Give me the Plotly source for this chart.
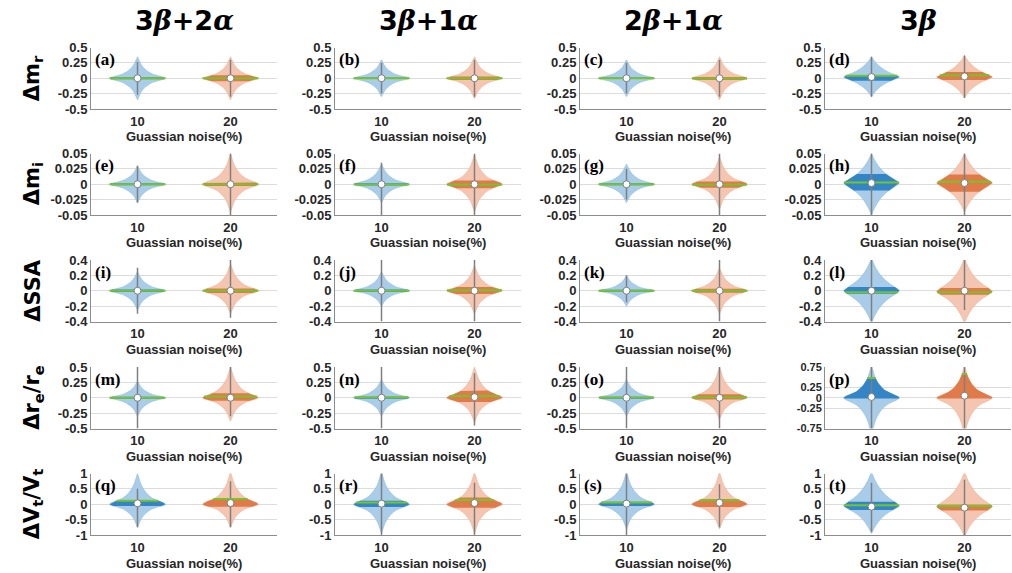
import numpy as np
import plotly.graph_objects as go
from plotly.subplots import make_subplots

# ---------------------------------------------------------------- data
GREEK = "<span style='font-family:DejaVu Serif'><i>{}</i></span>"
COLUMN_TITLES = ["3" + GREEK.format("β") + "+2" + GREEK.format("α"),
                 "3" + GREEK.format("β") + "+1" + GREEK.format("α"),
                 "2" + GREEK.format("β") + "+1" + GREEK.format("α"),
                 "3" + GREEK.format("β")]
ROW_LABELS = ["Δm<sub>r</sub>", "Δm<sub>i</sub>", "ΔSSA",
              "Δr<sub>e</sub>/r<sub>e</sub>", "ΔV<sub>t</sub>/V<sub>t</sub>"]
PANEL_TAGS = list("abcdefghijklmnopqrst")
NOISE_LEVELS = ["10", "20"]
X_TITLE = "Guassian noise(%)"

# y-axis limits and tick labels per row (row 4 column 4 uses its own)
Y_LIMITS = [0.5, 0.05, 0.4, 0.5, 1.0]
Y_TICKS = [
    [-0.5, -0.25, 0, 0.25, 0.5],
    [-0.05, -0.025, 0, 0.025, 0.05],
    [-0.4, -0.2, 0, 0.2, 0.4],
    [-0.5, -0.25, 0, 0.25, 0.5],
    [-1, -0.5, 0, 0.5, 1],
]
Y_TICKS_P = [-0.75, -0.25, 0, 0.25, 0.75]
Y_LIMIT_P = 0.75

# violin outline profiles: relative half-width vs. relative distance peak -> tip
PROFILE_T = [0, 0.03, 0.06, 0.1, 0.15, 0.2, 0.3, 0.4, 0.5, 0.6, 0.7, 0.8, 0.9, 1.0]
PROFILE_SHARP = [1.0, 0.97, 0.9, 0.78, 0.64, 0.53, 0.39, 0.29, 0.21, 0.15, 0.105, 0.07, 0.035, 0.0]
PROFILE_BROAD = [1.0, 0.97, 0.93, 0.86, 0.77, 0.68, 0.53, 0.41, 0.31, 0.23, 0.16, 0.10, 0.05, 0.0]
PANEL_SHAPE = ["sharp", "sharp", "sharp", "broad",
               "sharp", "sharp", "sharp", "broad",
               "sharp", "sharp", "sharp", "broad",
               "sharp", "sharp", "sharp", "sharp",
               "sharp", "sharp", "sharp", "broad"]

# per panel: [10 %, 20 %]
PEAK = [[0, 0], [0, 0], [0, 0], [0.02, 0.02],
        [0, 0], [0, 0], [0, 0], [0.002, 0.002],
        [0, 0], [0, 0], [0, 0], [0, -0.01],
        [0, 0], [0, 0], [0, 0], [0, 0],
        [0, 0], [0, 0], [0, 0], [-0.05, -0.08]]
TIP_HI = [[0.35, 0.35], [0.3, 0.35], [0.3, 0.35], [0.35, 0.37],
          [0.03, 0.05], [0.033, 0.048], [0.033, 0.045], [0.05, 0.05],
          [0.25, 0.35], [0.25, 0.33], [0.2, 0.3], [0.42, 0.42],
          [0.27, 0.5], [0.3, 0.5], [0.3, 0.5], [0.78, 0.78],
          [1.0, 1.05], [1.05, 1.05], [1.05, 1.05], [1.05, 1.05]]
TIP_LO = [[-0.35, -0.35], [-0.3, -0.33], [-0.3, -0.35], [-0.3, -0.32],
          [-0.03, -0.045], [-0.03, -0.045], [-0.03, -0.04], [-0.05, -0.045],
          [-0.25, -0.3], [-0.2, -0.3], [-0.2, -0.3], [-0.42, -0.42],
          [-0.3, -0.38], [-0.3, -0.4], [-0.3, -0.35], [-0.9, -0.9],
          [-0.75, -0.75], [-0.95, -0.95], [-0.8, -0.8], [-0.95, -1.05]]
Q1 = [[-0.015, -0.05], [-0.012, -0.03], [-0.012, -0.03], [-0.04, -0.03],
      [-0.0015, -0.003], [-0.002, -0.0066], [-0.0015, -0.0055], [-0.01, -0.012],
      [-0.015, -0.03], [-0.015, -0.043], [-0.012, -0.025], [-0.04, -0.053],
      [-0.015, -0.05], [-0.015, -0.07], [-0.015, -0.03], [-0.02, -0.02],
      [-0.055, -0.08], [-0.09, -0.11], [-0.06, -0.09], [-0.19, -0.2]]
Q3 = [[0.015, 0.05], [0.012, 0.03], [0.012, 0.02], [0.047, 0.1],
      [0.0015, 0.003], [0.0015, 0.006], [0.0015, 0.0044], [0.0167, 0.016],
      [0.015, 0.03], [0.015, 0.05], [0.012, 0.025], [0.05, 0.036],
      [0.015, 0.075], [0.015, 0.116], [0.015, 0.058], [0.5, 0.6],
      [0.11, 0.19], [0.11, 0.22], [0.08, 0.17], [0.08, -0.01]]
MEAN = [[0, 0], [0, 0], [0, -0.005], [0.04, 0.05],
        [0, 0], [-0.0003, -0.001], [0, -0.001], [0.003, 0.004],
        [0, 0], [0, 0.005], [0, 0], [-0.02, -0.018],
        [0, 0.02], [0.01, 0.03], [0.005, 0.01], [0.48, 0.58],
        [0.11, 0.17], [0.055, 0.14], [0.06, 0.13], [-0.03, -0.055]]
MEDIAN = [[0, 0], [0, 0], [0, 0], [0.02, 0.03],
          [0, 0], [0, 0], [0, 0], [0.002, 0.002],
          [0, 0], [0, 0], [0, 0], [0, 0],
          [0, 0], [0, 0.01], [0, 0], [0.02, 0.05],
          [0.03, 0.04], [0.02, 0.04], [0.02, 0.05], [-0.08, -0.11]]
WHISK_LO = [[-0.27, -0.3], [-0.25, -0.3], [-0.25, -0.3], [-0.3, -0.32],
            [-0.03, -0.05], [-0.05, -0.05], [-0.025, -0.05], [-0.05, -0.05],
            [-0.3, -0.35], [-0.4, -0.4], [-0.15, -0.4], [-0.4, -0.25],
            [-0.5, -0.3], [-0.5, -0.45], [-0.5, -0.5], [-0.75, -0.75],
            [-0.75, -0.75], [-1, -1], [-1, -0.75], [-0.9, -1]]
WHISK_HI = [[0.27, 0.3], [0.25, 0.3], [0.25, 0.3], [0.35, 0.37],
            [0.03, 0.05], [0.035, 0.05], [0.025, 0.05], [0.05, 0.05],
            [0.3, 0.4], [0.4, 0.4], [0.2, 0.4], [0.4, 0.4],
            [0.5, 0.5], [0.5, 0.4], [0.5, 0.5], [0.75, 0.75],
            [0.5, 0.75], [1, 0.7], [1, 0.65], [0.7, 0.8]]

# ---------------------------------------------------------------- style
FIG_W, FIG_H = 1012, 573
COL_LEFT = [91, 335, 580, 825]
PLOT_W = 186
ROW_TOP = [47.5, 153.5, 260, 367, 473.5]
PLOT_H = 61.5
HALF_W = 0.3
LIGHT = ["#a9cce9", "#f4c6b1"]
DARK = ["#3385c6", "#e07a48"]
EDGE = ["#8dbce0", "#eeae90"]
MEAN_COLOR = "#74c52a"
WHISK_COLOR = "#7f7f7f"
FONT = "Liberation Sans"
BIG_FONT = "DejaVu Sans"
TEXT_COLOR = "#262626"

fig = make_subplots(rows=5, cols=4)


def outline(peak, hi, lo, prof):
    t = np.array(PROFILE_T)
    w = np.array(prof) * HALF_W
    y_up = peak + t * (hi - peak)
    y_dn = peak - t * (peak - lo)
    ys = np.concatenate([y_dn[::-1], y_up[1:]])
    ws = np.concatenate([w[::-1], w[1:]])
    return ys, ws


annotations = []
for r in range(5):
    for c in range(4):
        p = r * 4 + c
        prof = PROFILE_BROAD if PANEL_SHAPE[p] == "broad" else PROFILE_SHARP
        for k in range(2):
            pos = k + 1
            ys, ws = outline(PEAK[p][k], TIP_HI[p][k], TIP_LO[p][k], prof)
            # violin body
            fig.add_trace(go.Scatter(
                x=np.concatenate([pos + ws, (pos - ws)[::-1]]),
                y=np.concatenate([ys, ys[::-1]]),
                mode="lines", fill="toself", fillcolor=LIGHT[k],
                line=dict(color=EDGE[k], width=0.6, shape="spline", smoothing=0.6),
                hoverinfo="skip", showlegend=False), row=r + 1, col=c + 1)
            # inter-quartile shading
            yq = np.linspace(Q1[p][k], Q3[p][k], 25)
            wq = np.interp(yq, ys, ws)
            fig.add_trace(go.Scatter(
                x=np.concatenate([pos + wq, (pos - wq)[::-1]]),
                y=np.concatenate([yq, yq[::-1]]),
                mode="lines", fill="toself", fillcolor=DARK[k],
                line=dict(color=DARK[k], width=0),
                hoverinfo="skip", showlegend=False), row=r + 1, col=c + 1)
            # whisker
            fig.add_trace(go.Scatter(
                x=[pos, pos], y=[WHISK_LO[p][k], WHISK_HI[p][k]],
                mode="lines", line=dict(color=WHISK_COLOR, width=1.5),
                hoverinfo="skip", showlegend=False), row=r + 1, col=c + 1)
            # mean line spanning the violin width at the mean
            wm = float(np.interp(MEAN[p][k], ys, ws))
            fig.add_trace(go.Scatter(
                x=[pos - wm, pos + wm], y=[MEAN[p][k], MEAN[p][k]],
                mode="lines", line=dict(color=MEAN_COLOR, width=2),
                hoverinfo="skip", showlegend=False), row=r + 1, col=c + 1)
            # median marker
            fig.add_trace(go.Scatter(
                x=[pos], y=[MEDIAN[p][k]], mode="markers",
                marker=dict(color="white", size=7, line=dict(color=WHISK_COLOR, width=1)),
                hoverinfo="skip", showlegend=False), row=r + 1, col=c + 1)

        x0 = COL_LEFT[c] / FIG_W
        x1 = (COL_LEFT[c] + PLOT_W) / FIG_W
        y1 = 1 - ROW_TOP[r] / FIG_H
        y0 = 1 - (ROW_TOP[r] + PLOT_H) / FIG_H
        tick_size = 13
        if r == 3 and c == 3:
            lim, ticks = Y_LIMIT_P, Y_TICKS_P
            tick_size = 11
        else:
            lim, ticks = Y_LIMITS[r], Y_TICKS[r]
        fig.update_xaxes(domain=[x0, x1], range=[0.5, 2.5], tickvals=[1, 2],
                         ticktext=NOISE_LEVELS, showgrid=False, zeroline=False,
                         showline=True, linecolor="#8c8c8c", linewidth=1, ticks="",
                         ticklabelstandoff=0, automargin=False,
                         tickfont=dict(family=FONT, size=13, color=TEXT_COLOR, weight="bold"),
                         fixedrange=True, row=r + 1, col=c + 1)
        fig.update_yaxes(domain=[y0, y1], range=[-lim, lim], tickvals=ticks,
                         ticktext=[f"{v:g}" for v in ticks], automargin=False,
                         showgrid=True, gridcolor="#dcdcdc", gridwidth=1, zeroline=False,
                         showline=True, linecolor="#8c8c8c", linewidth=1, ticks="",
                         tickfont=dict(family=FONT, size=tick_size, color=TEXT_COLOR, weight="bold"),
                         fixedrange=True, row=r + 1, col=c + 1)

        # x-axis title
        annotations.append(dict(
            x=(COL_LEFT[c] + PLOT_W / 2) / FIG_W, y=1 - (ROW_TOP[r] + PLOT_H + 28) / FIG_H,
            xref="paper", yref="paper", text=X_TITLE, showarrow=False,
            xanchor="center", yanchor="middle",
            font=dict(family=FONT, size=13, color=TEXT_COLOR, weight="bold")))
        # panel tag
        annotations.append(dict(
            x=(COL_LEFT[c] + 2) / FIG_W, y=1 - (ROW_TOP[r] + 12) / FIG_H,
            xref="paper", yref="paper", text=f"({PANEL_TAGS[p]})", showarrow=False,
            xanchor="left", yanchor="middle",
            font=dict(family="Liberation Serif", size=17, color="black", weight="bold")))

for c, title in enumerate(COLUMN_TITLES):
    annotations.append(dict(
        x=(COL_LEFT[c] + PLOT_W / 2) / FIG_W, y=1 - 20 / FIG_H,
        xref="paper", yref="paper", text=title, showarrow=False,
        xanchor="center", yanchor="middle",
        font=dict(family=BIG_FONT, size=27, color="black", weight="bold")))

for r, label in enumerate(ROW_LABELS):
    annotations.append(dict(
        x=33 / FIG_W, y=1 - (ROW_TOP[r] + PLOT_H / 2) / FIG_H,
        xref="paper", yref="paper", text=label, showarrow=False, textangle=-90,
        xanchor="center", yanchor="middle",
        font=dict(family=BIG_FONT, size=21, color="black", weight="bold")))

fig.update_layout(
    width=FIG_W, height=FIG_H, margin=dict(l=0, r=0, t=0, b=0, pad=0, autoexpand=False),
    paper_bgcolor="white", plot_bgcolor="white",
    annotations=annotations, showlegend=False)

fig.write_html("out.html", config={"displayModeBar": False})
